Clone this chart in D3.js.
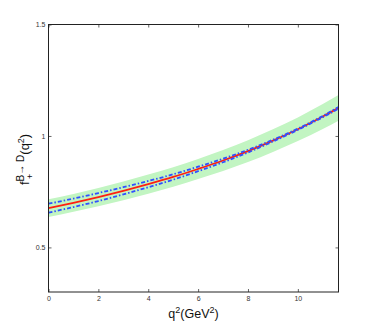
<!DOCTYPE html>
<html>
<head>
<meta charset="utf-8">
<script src="https://cdn.jsdelivr.net/npm/d3@7"></script>
<style>
  body { margin: 0; background: #fff; }
  svg { display: block; font-family: "Liberation Sans", Arial, sans-serif; }
</style>
</head>
<body>
<div id="chart"></div>
<script>
// Values
const q2 = [0, 1, 2, 3, 4, 5, 6, 7, 8, 9, 10, 11, 11.63];
const central = [0.676, 0.700, 0.726, 0.754, 0.784, 0.816, 0.852, 0.890, 0.932, 0.979, 1.030, 1.087, 1.126];
const bandUpper = [0.716, 0.740, 0.767, 0.796, 0.827, 0.860, 0.897, 0.937, 0.981, 1.030, 1.083, 1.143, 1.184];
const bandLower = [0.636, 0.660, 0.685, 0.712, 0.741, 0.772, 0.807, 0.843, 0.883, 0.928, 0.977, 1.031, 1.068];
const blueUpper = [0.696, 0.719, 0.744, 0.770, 0.798, 0.828, 0.862, 0.898, 0.938, 0.983, 1.033, 1.090, 1.130];
const blueLower = [0.656, 0.681, 0.708, 0.738, 0.770, 0.804, 0.842, 0.882, 0.926, 0.975, 1.027, 1.084, 1.122];
const xTicks = [0, 2, 4, 6, 8, 10];
const yTicks = [0.5, 1, 1.5];

const width = 374;
const height = 329;
const marginTop = 24.5;
const marginRight = 35.5;
const marginBottom = 37;
const marginLeft = 48.5;

const x = d3.scaleLinear()
    .domain([0, 11.63])
    .range([marginLeft, width - marginRight]);

const y = d3.scaleLinear()
    .domain([0.3, 1.5])
    .range([height - marginBottom, marginTop]);

const svg = d3.create("svg")
    .attr("width", width)
    .attr("height", height);

// green error band
const area = d3.area()
    .x((d, i) => x(q2[i]))
    .y0((d, i) => y(bandLower[i]))
    .y1((d, i) => y(bandUpper[i]))
    .curve(d3.curveMonotoneX);

svg.append("path")
    .datum(q2)
    .attr("fill", "#c2f5c2")
    .attr("d", area);

const line = vals => d3.line()
    .x((d, i) => x(q2[i]))
    .y((d, i) => y(vals[i]))
    .curve(d3.curveMonotoneX)(q2);

// central value
svg.append("path")
    .attr("d", line(central))
    .attr("fill", "none")
    .attr("stroke", "#ff1f10")
    .attr("stroke-width", 1.8);

// dash-dot curves
[blueUpper, blueLower].forEach(vals => {
  svg.append("path")
      .attr("d", line(vals))
      .attr("fill", "none")
      .attr("stroke", "#3050ff")
      .attr("stroke-width", 1.8)
      .attr("stroke-dasharray", "4,2,1.5,2");
});

// axes, ticks pointing inward
const styleAxis = g => {
  g.select(".domain").remove();
  g.selectAll(".tick line").attr("stroke", "#666");
  g.selectAll(".tick text").attr("fill", "#333").attr("font-size", 7);
};

svg.append("g")
    .attr("transform", `translate(0,${height - marginBottom})`)
    .call(d3.axisBottom(x).tickValues(xTicks).tickSize(-3).tickPadding(4))
    .call(styleAxis);

svg.append("g")
    .attr("transform", `translate(0,${marginTop})`)
    .call(d3.axisTop(x).tickValues(xTicks).tickSize(-3).tickFormat(""))
    .call(styleAxis);

svg.append("g")
    .attr("transform", `translate(${marginLeft},0)`)
    .call(d3.axisLeft(y).tickValues(yTicks).tickSize(-3).tickPadding(3).tickFormat(d3.format("")))
    .call(styleAxis);

svg.append("g")
    .attr("transform", `translate(${width - marginRight},0)`)
    .call(d3.axisRight(y).tickValues(yTicks).tickSize(-3).tickFormat(""))
    .call(styleAxis);

// box
svg.append("rect")
    .attr("x", marginLeft)
    .attr("y", marginTop)
    .attr("width", width - marginLeft - marginRight)
    .attr("height", height - marginTop - marginBottom)
    .attr("fill", "none")
    .attr("stroke", "#222")
    .attr("stroke-width", 1);

// x label
const xl = svg.append("text")
    .attr("x", (marginLeft + width - marginRight) / 2)
    .attr("y", 318)
    .attr("text-anchor", "middle")
    .attr("font-size", 12.5)
    .attr("fill", "#111");
xl.append("tspan").text("q");
xl.append("tspan").attr("dy", -5).attr("font-size", 9).text("2");
xl.append("tspan").attr("dy", 5).text("(GeV");
xl.append("tspan").attr("dy", -5).attr("font-size", 9).text("2");
xl.append("tspan").attr("dy", 5).text(")");

// y label
const yg = svg.append("g")
    .attr("transform", "translate(29,185) rotate(-90)")
    .attr("fill", "#111");
const yl = yg.append("text")
    .attr("font-size", 13);
yl.append("tspan").text("f");
yl.append("tspan").attr("dy", -5).attr("font-size", 10).text("B\u2192 D");
yl.append("tspan").attr("dy", 5).text("(q");
yl.append("tspan").attr("dy", -5).attr("font-size", 9).text("2");
yl.append("tspan").attr("dy", 5).text(")");
yg.append("text")
    .attr("x", 6)
    .attr("y", 4)
    .attr("font-size", 9)
    .text("+");

document.getElementById("chart").append(svg.node());
</script>
</body>
</html>
